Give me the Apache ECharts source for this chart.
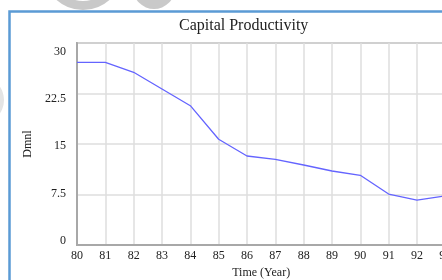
<!DOCTYPE html>
<html>
<head>
<meta charset="utf-8">
<script src="https://cdn.jsdelivr.net/npm/echarts@6/dist/echarts.min.js"></script>
<style>
  html, body { margin: 0; padding: 0; background: #fff; }
  #container { width: 442px; height: 280px; }
</style>
</head>
<body>
<div id="container"></div>
<script>
// Capital Productivity by year (Dmnl)
var years = [80, 81, 82, 83, 84, 85, 86, 87, 88, 89, 90, 91, 92, 93];
var productivity = [27.13, 27.13, 25.65, 23.17, 20.69, 15.7, 13.22, 12.73, 11.88, 10.99, 10.35, 7.57, 6.68, 7.3];
var yTicks = [0, 7.5, 15, 22.5, 30];

var dom = document.getElementById('container');
var myChart = echarts.init(dom);
var serif = '"Liberation Serif", "DejaVu Serif", serif';

var lineData = years.map(function (y, i) { return [y, productivity[i]]; });

var option = {
    backgroundColor: '#fff',
    animation: false,
    title: {
        text: 'Capital Productivity',
        left: 179,
        top: 18,
        padding: 0,
        textStyle: { fontFamily: serif, fontSize: 16, fontWeight: 'normal', color: '#222' }
    },
    grid: {
        left: 77,
        top: 43,
        height: 202,
        width: 368.3,
        outerBoundsMode: 'none',
        show: true,
        borderColor: '#a8a8a8',
        borderWidth: 2
    },
    xAxis: {
        type: 'value',
        min: 80,
        max: 93,
        interval: 1,
        name: 'Time (Year)',
        nameLocation: 'middle',
        nameGap: 17,
        nameTextStyle: { fontFamily: serif, fontSize: 12, color: '#222' },
        axisLine: { show: true, lineStyle: { color: '#a8a8a8', width: 2 } },
        axisTick: { show: false },
        axisLabel: { margin: 5, fontFamily: serif, fontSize: 12, color: '#222', showMaxLabel: true },
        splitLine: { show: true, lineStyle: { color: '#dedede', width: 1.5 } }
    },
    yAxis: [
        {
            type: 'value',
            min: 0,
            max: 30,
            interval: 7.5,
            axisLine: { show: true, lineStyle: { color: '#a8a8a8', width: 2 } },
            axisTick: { show: false },
            axisLabel: { show: false },
            splitLine: { show: true, lineStyle: { color: '#dedede', width: 1.5 } }
        },
        {
            // label-only axis: Vensim spaces its labels a bit tighter than the grid
            type: 'value',
            position: 'left',
            min: -0.716,
            max: 31.43,
            name: 'Dmnl',
            nameLocation: 'middle',
            nameGap: 35,
            nameTextStyle: { fontFamily: serif, fontSize: 12, color: '#222' },
            axisLine: { show: false },
            axisTick: { show: false },
            splitLine: { show: false },
            axisLabel: {
                customValues: yTicks,
                margin: 11,
                fontFamily: serif,
                fontSize: 12,
                color: '#222'
            }
        }
    ],
    series: [
        {
            name: 'Capital Productivity',
            type: 'line',
            yAxisIndex: 0,
            data: lineData,
            symbol: 'none',
            lineStyle: { color: '#6464ff', width: 1.3 }
        }
    ],
    graphic: [
        // faint watermark pieces
        { type: 'ring', shape: { cx: 83, cy: -30, r: 40, r0: 31 }, style: { fill: '#c9c9c9' }, z: 0 },
        { type: 'circle', shape: { cx: 154, cy: -12, r: 21 }, style: { fill: '#c9c9c9' }, z: 0 },
        { type: 'circle', shape: { cx: -20, cy: 100, r: 24 }, style: { fill: '#e4e4e4' }, z: 0 },
        // blue frame
        { type: 'rect', shape: { x: 9.5, y: 11.5, width: 600, height: 400 }, style: { fill: null, stroke: '#5b9bd5', lineWidth: 2.5 }, z: 1 }
    ]
};

if (option && typeof option === 'object') {
    myChart.setOption(option, true);
}
</script>
</body>
</html>
